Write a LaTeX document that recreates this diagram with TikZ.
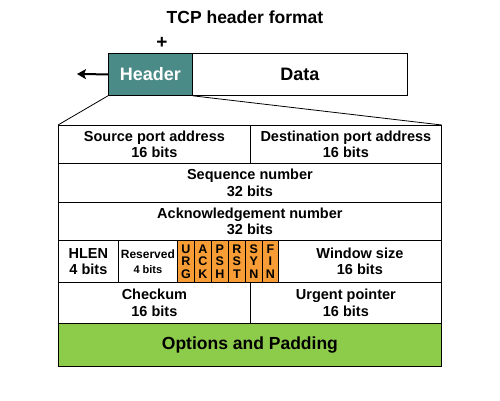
\documentclass[tikz,border=0pt]{standalone}
\usepackage{fontspec}
\setmainfont{Liberation Sans}
\usetikzlibrary{arrows.meta}
\definecolor{hdrteal}{HTML}{4A8A87}
\definecolor{flagorange}{HTML}{F89C35}
\definecolor{optgreen}{HTML}{8DCB4A}
\begin{document}
\begin{tikzpicture}[x=1pt,y=-1pt,
  cell/.style={draw=black, line width=0.8pt, inner sep=0pt, anchor=north west, align=center, fill=white, font=\bfseries\fontsize{14.5}{16.5}\selectfont},
  flag/.style={cell, fill=flagorange, minimum width=17pt, minimum height=42pt, font=\bfseries\fontsize{12.5}{12.5}\selectfont},
  lnk/.style={draw=black, line width=0.8pt}]
\useasboundingbox (0,0) rectangle (500,400);
\node[font=\bfseries\fontsize{17.5}{20}\selectfont] (title) at (245,17) {TCP header format};
\node[font=\bfseries\fontsize{19}{20}\selectfont] (plus) at (162,43) {+};
\node[cell, fill=hdrteal, text=white, minimum width=84pt, minimum height=42pt, font=\bfseries\fontsize{18}{20}\selectfont] (header) at (108,53) {Header};
\node[cell, minimum width=215pt, minimum height=42pt, font=\bfseries\fontsize{18}{20}\selectfont] (data) at (192,53) {Data};
\coordinate (arrend) at (77,74);
\draw[lnk, line width=2pt, -{Stealth[length=9pt,width=10pt,inset=2pt]}] (header.west) -- (arrend);

\node[cell, minimum width=192pt, minimum height=38pt] (src) at (58,125) {Source port address\\16 bits};
\node[cell, minimum width=191pt, minimum height=38pt] (dst) at (250,125) {Destination port address\\16 bits};
\node[cell, minimum width=383pt, minimum height=39pt] (seq) at (58,163) {Sequence number\\32 bits};
\node[cell, minimum width=383pt, minimum height=38pt] (ack) at (58,202) {Acknowledgement number\\32 bits};
\node[cell, minimum width=60pt, minimum height=42pt] (hlen) at (58,240) {HLEN\\4 bits};
\node[cell, minimum width=59pt, minimum height=42pt, font=\bfseries\fontsize{12}{15}\selectfont] (res) at (118,240) {Reserved\\{\fontsize{11}{12}\selectfont 4 bits}};
\node[flag] (urgf) at (177,240) {U\\R\\G};
\node[flag] (ackf) at (194,240) {A\\C\\K};
\node[flag] (pshf) at (211,240) {P\\S\\H};
\node[flag] (rstf) at (228,240) {R\\S\\T};
\node[flag] (synf) at (245,240) {S\\Y\\N};
\node[flag, minimum width=16pt] (finf) at (262,240) {F\\I\\N};
\node[cell, minimum width=163pt, minimum height=42pt] (win) at (278,240) {Window size\\16 bits};
\node[cell, minimum width=192pt, minimum height=41pt] (chk) at (58,282) {Checkum\\16 bits};
\node[cell, minimum width=191pt, minimum height=41pt] (urg) at (250,282) {Urgent pointer\\16 bits};
\node[cell, fill=optgreen, minimum width=383pt, minimum height=43pt, font=\bfseries\fontsize{17.5}{20}\selectfont] (opt) at (58,323) {Options and Padding};

\draw[lnk] (header.south west) -- (src.north west);
\draw[lnk] (header.south east) -- (dst.north east);
\end{tikzpicture}
\end{document}
